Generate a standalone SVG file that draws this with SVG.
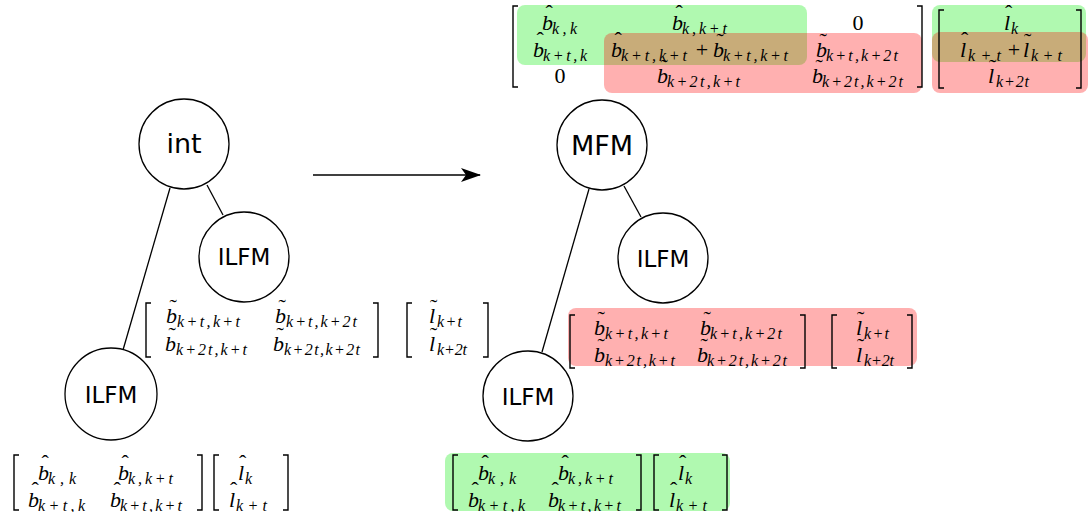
<svg xmlns="http://www.w3.org/2000/svg" width="1091" height="512" viewBox="0 0 1091 512">
<style>
.bg{fill:#fff}
.node circle{fill:#fff;stroke:#000;stroke-width:1.3}
.lbl{font-family:"DejaVu Sans",sans-serif;text-anchor:middle;fill:#000}
.big{font-size:27px}
.sm{font-size:23px}
.edge{stroke:#000;stroke-width:1.3;fill:none}
.br{stroke:#000;stroke-width:1.4;fill:none}
.m{font-family:"Liberation Serif",serif;font-style:italic;font-size:22px}
.u{font-family:"Liberation Serif",serif;font-size:22px;text-anchor:middle}
.s{font-size:16px}
.a{font-style:normal}
.g{fill:rgb(0,235,0);fill-opacity:0.31}
.r{fill:rgb(255,0,0);fill-opacity:0.31}
</style>
<defs>
<marker id="ah" viewBox="0 0 20 14" refX="19" refY="7" markerWidth="20" markerHeight="14" markerUnits="userSpaceOnUse" orient="auto">
<path d="M0,0 L20,7 L0,14 L5,7 Z" fill="#000"/>
</marker>
</defs>
<rect class="bg" x="0" y="0" width="1091" height="512"/>

<g id="highlights">
<rect class="g" x="517" y="5" width="290" height="60" rx="8"/>
<rect class="r" x="604" y="33" width="318" height="60" rx="8"/>
<rect class="g" x="932" y="5" width="154" height="57" rx="8"/>
<rect class="r" x="932" y="32" width="156" height="61" rx="8"/>
<rect class="r" x="568" y="308" width="349" height="58" rx="8"/>
<rect class="g" x="445" y="453" width="285" height="58" rx="8"/>
</g>

<g id="connectors">
<line class="edge" x1="170" y1="188" x2="123" y2="350"/>
<line class="edge" x1="207" y1="185" x2="223" y2="215"/>
<line class="edge" x1="589" y1="189" x2="542" y2="352"/>
<line class="edge" x1="624" y1="186" x2="641" y2="217"/>
<line class="edge" x1="313" y1="175" x2="480" y2="175" marker-end="url(#ah)"/>
</g>

<g id="node-int" class="node"><circle cx="184" cy="144" r="45"/><text class="lbl big" x="184" y="153">int</text></g>
<g id="node-ilfm-a" class="node"><circle cx="244" cy="257" r="45"/><text class="lbl sm" x="244" y="265">ILFM</text></g>
<g id="node-ilfm-b" class="node"><circle cx="111" cy="394" r="46"/><text class="lbl sm" x="111" y="403">ILFM</text></g>
<g id="node-mfm" class="node"><circle cx="602" cy="145" r="45"/><text class="lbl big" x="602" y="155">MFM</text></g>
<g id="node-ilfm-c" class="node"><circle cx="663" cy="258" r="45"/><text class="lbl sm" x="663" y="267">ILFM</text></g>
<g id="node-ilfm-d" class="node"><circle cx="528" cy="396" r="45"/><text class="lbl sm" x="528" y="405">ILFM</text></g>

<g id="top-matrix">
<path class="br" d="M518,6 H513 V87 H518"/>
<path class="br" d="M917,6 H922 V87 H917"/>
<text class="m"><tspan class="a" x="545.5" y="20">ˆ</tspan><tspan x="542" y="30">b</tspan><tspan class="s" x="552" y="34" textLength="25" lengthAdjust="spacing">k,k</tspan></text>
<text class="m"><tspan class="a" x="675.5" y="20">ˆ</tspan><tspan x="672" y="30">b</tspan><tspan class="s" x="682" y="34" textLength="45" lengthAdjust="spacing">k,k+t</tspan></text>
<text class="u" x="858" y="30">0</text>
<text class="m"><tspan class="a" x="536.5" y="47">ˆ</tspan><tspan x="533" y="57">b</tspan><tspan class="s" x="543" y="61" textLength="44" lengthAdjust="spacing">k+t,k</tspan></text>
<text class="m"><tspan class="a" x="614.5" y="47">ˆ</tspan><tspan x="611" y="57">b</tspan><tspan class="s" x="621" y="61" textLength="66" lengthAdjust="spacing">k+t,k+t</tspan></text>
<text class="u" x="702" y="57">+</text>
<text class="m"><tspan class="a" x="716.5" y="48">˜</tspan><tspan x="713" y="57">b</tspan><tspan class="s" x="723" y="61" textLength="65" lengthAdjust="spacing">k+t,k+t</tspan></text>
<text class="m"><tspan class="a" x="819.5" y="48">˜</tspan><tspan x="816" y="57">b</tspan><tspan class="s" x="826" y="61" textLength="72" lengthAdjust="spacing">k+t,k+2t</tspan></text>
<text class="u" x="560" y="83">0</text>
<text class="m"><tspan class="a" x="660.5" y="74">˜</tspan><tspan x="657" y="83">b</tspan><tspan class="s" x="667" y="87" textLength="73" lengthAdjust="spacing">k+2t,k+t</tspan></text>
<text class="m"><tspan class="a" x="815.5" y="74">˜</tspan><tspan x="812" y="83">b</tspan><tspan class="s" x="822" y="87" textLength="81" lengthAdjust="spacing">k+2t,k+2t</tspan></text>
</g>
<g id="top-vector">
<path class="br" d="M944,10 H939 V88 H944"/>
<path class="br" d="M1076,10 H1081 V88 H1076"/>
<text class="m"><tspan class="a" x="1005" y="20">ˆ</tspan><tspan x="1004" y="30">l</tspan><tspan class="s" x="1011" y="34">k</tspan></text>
<text class="m"><tspan class="a" x="961" y="47">ˆ</tspan><tspan x="960" y="57">l</tspan><tspan class="s" x="968" y="61" textLength="33" lengthAdjust="spacing">k+t</tspan></text>
<text class="u" x="1014" y="57">+</text>
<text class="m"><tspan class="a" x="1024" y="48">˜</tspan><tspan x="1023" y="57">l</tspan><tspan class="s" x="1031" y="61" textLength="31" lengthAdjust="spacing">k+t</tspan></text>
<text class="m"><tspan class="a" x="989" y="74">˜</tspan><tspan x="988" y="83">l</tspan><tspan class="s" x="996" y="87" textLength="33" lengthAdjust="spacing">k+2t</tspan></text>
</g>

<g id="left-tilde">
<path class="br" d="M151,303 H146 V357 H151"/>
<path class="br" d="M373,303 H378 V357 H373"/>
<text class="m"><tspan class="a" x="169.5" y="314">˜</tspan><tspan x="166" y="323">b</tspan><tspan class="s" x="177" y="327" textLength="63" lengthAdjust="spacing">k+t,k+t</tspan></text>
<text class="m"><tspan class="a" x="278.5" y="314">˜</tspan><tspan x="275" y="323">b</tspan><tspan class="s" x="286" y="327" textLength="71" lengthAdjust="spacing">k+t,k+2t</tspan></text>
<text class="m"><tspan class="a" x="168.5" y="342">˜</tspan><tspan x="165" y="351">b</tspan><tspan class="s" x="176" y="355" textLength="71" lengthAdjust="spacing">k+2t,k+t</tspan></text>
<text class="m"><tspan class="a" x="276.5" y="342">˜</tspan><tspan x="273" y="351">b</tspan><tspan class="s" x="284" y="355" textLength="76" lengthAdjust="spacing">k+2t,k+2t</tspan></text>
<path class="br" d="M412,303 H407 V357 H412"/>
<path class="br" d="M483,303 H488 V357 H483"/>
<text class="m"><tspan class="a" x="430" y="314">˜</tspan><tspan x="429" y="323">l</tspan><tspan class="s" x="437" y="327" textLength="25" lengthAdjust="spacing">k+t</tspan></text>
<text class="m"><tspan class="a" x="430" y="342">˜</tspan><tspan x="429" y="351">l</tspan><tspan class="s" x="437" y="355" textLength="30" lengthAdjust="spacing">k+2t</tspan></text>
</g>

<g id="right-tilde">
<path class="br" d="M575,315 H570 V368 H575"/>
<path class="br" d="M800,315 H805 V368 H800"/>
<text class="m"><tspan class="a" x="597.5" y="326">˜</tspan><tspan x="594" y="335">b</tspan><tspan class="s" x="605" y="339" textLength="63" lengthAdjust="spacing">k+t,k+t</tspan></text>
<text class="m"><tspan class="a" x="703.5" y="326">˜</tspan><tspan x="700" y="335">b</tspan><tspan class="s" x="710" y="339" textLength="72" lengthAdjust="spacing">k+t,k+2t</tspan></text>
<text class="m"><tspan class="a" x="597.5" y="353">˜</tspan><tspan x="594" y="362">b</tspan><tspan class="s" x="605" y="366" textLength="70" lengthAdjust="spacing">k+2t,k+t</tspan></text>
<text class="m"><tspan class="a" x="700.5" y="353">˜</tspan><tspan x="697" y="362">b</tspan><tspan class="s" x="707" y="366" textLength="80" lengthAdjust="spacing">k+2t,k+2t</tspan></text>
<path class="br" d="M837,315 H832 V368 H837"/>
<path class="br" d="M907,315 H912 V368 H907"/>
<text class="m"><tspan class="a" x="857" y="326">˜</tspan><tspan x="856" y="335">l</tspan><tspan class="s" x="864" y="339" textLength="25" lengthAdjust="spacing">k+t</tspan></text>
<text class="m"><tspan class="a" x="857" y="353">˜</tspan><tspan x="856" y="362">l</tspan><tspan class="s" x="864" y="366" textLength="30" lengthAdjust="spacing">k+2t</tspan></text>
</g>

<g id="left-hat">
<path class="br" d="M19,455 H14 V510 H19"/>
<path class="br" d="M197,455 H202 V510 H197"/>
<text class="m"><tspan class="a" x="41.5" y="470">ˆ</tspan><tspan x="38" y="480">b</tspan><tspan class="s" x="48" y="484" textLength="28" lengthAdjust="spacing">k,k</tspan></text>
<text class="m"><tspan class="a" x="121.5" y="470">ˆ</tspan><tspan x="118" y="480">b</tspan><tspan class="s" x="128" y="484" textLength="45" lengthAdjust="spacing">k,k+t</tspan></text>
<text class="m"><tspan class="a" x="31.5" y="497">ˆ</tspan><tspan x="28" y="507">b</tspan><tspan class="s" x="38" y="511" textLength="47" lengthAdjust="spacing">k+t,k</tspan></text>
<text class="m"><tspan class="a" x="113.5" y="497">ˆ</tspan><tspan x="110" y="507">b</tspan><tspan class="s" x="120" y="511" textLength="62" lengthAdjust="spacing">k+t,k+t</tspan></text>
<path class="br" d="M219,455 H214 V510 H219"/>
<path class="br" d="M283,455 H288 V510 H283"/>
<text class="m"><tspan class="a" x="239" y="470">ˆ</tspan><tspan x="238" y="480">l</tspan><tspan class="s" x="245" y="484">k</tspan></text>
<text class="m"><tspan class="a" x="230" y="497">ˆ</tspan><tspan x="229" y="507">l</tspan><tspan class="s" x="236" y="511" textLength="31" lengthAdjust="spacing">k+t</tspan></text>
</g>

<g id="right-hat">
<path class="br" d="M458,455 H453 V510 H458"/>
<path class="br" d="M636,455 H641 V510 H636"/>
<text class="m"><tspan class="a" x="481.5" y="470">ˆ</tspan><tspan x="478" y="480">b</tspan><tspan class="s" x="488" y="484" textLength="28" lengthAdjust="spacing">k,k</tspan></text>
<text class="m"><tspan class="a" x="561.5" y="470">ˆ</tspan><tspan x="558" y="480">b</tspan><tspan class="s" x="568" y="484" textLength="45" lengthAdjust="spacing">k,k+t</tspan></text>
<text class="m"><tspan class="a" x="471.5" y="497">ˆ</tspan><tspan x="468" y="507">b</tspan><tspan class="s" x="478" y="511" textLength="47" lengthAdjust="spacing">k+t,k</tspan></text>
<text class="m"><tspan class="a" x="551.5" y="497">ˆ</tspan><tspan x="548" y="507">b</tspan><tspan class="s" x="558" y="511" textLength="63" lengthAdjust="spacing">k+t,k+t</tspan></text>
<path class="br" d="M659,455 H654 V510 H659"/>
<path class="br" d="M722,455 H727 V510 H722"/>
<text class="m"><tspan class="a" x="679" y="470">ˆ</tspan><tspan x="678" y="480">l</tspan><tspan class="s" x="685" y="484">k</tspan></text>
<text class="m"><tspan class="a" x="670" y="497">ˆ</tspan><tspan x="669" y="507">l</tspan><tspan class="s" x="676" y="511" textLength="31" lengthAdjust="spacing">k+t</tspan></text>
</g>
</svg>
